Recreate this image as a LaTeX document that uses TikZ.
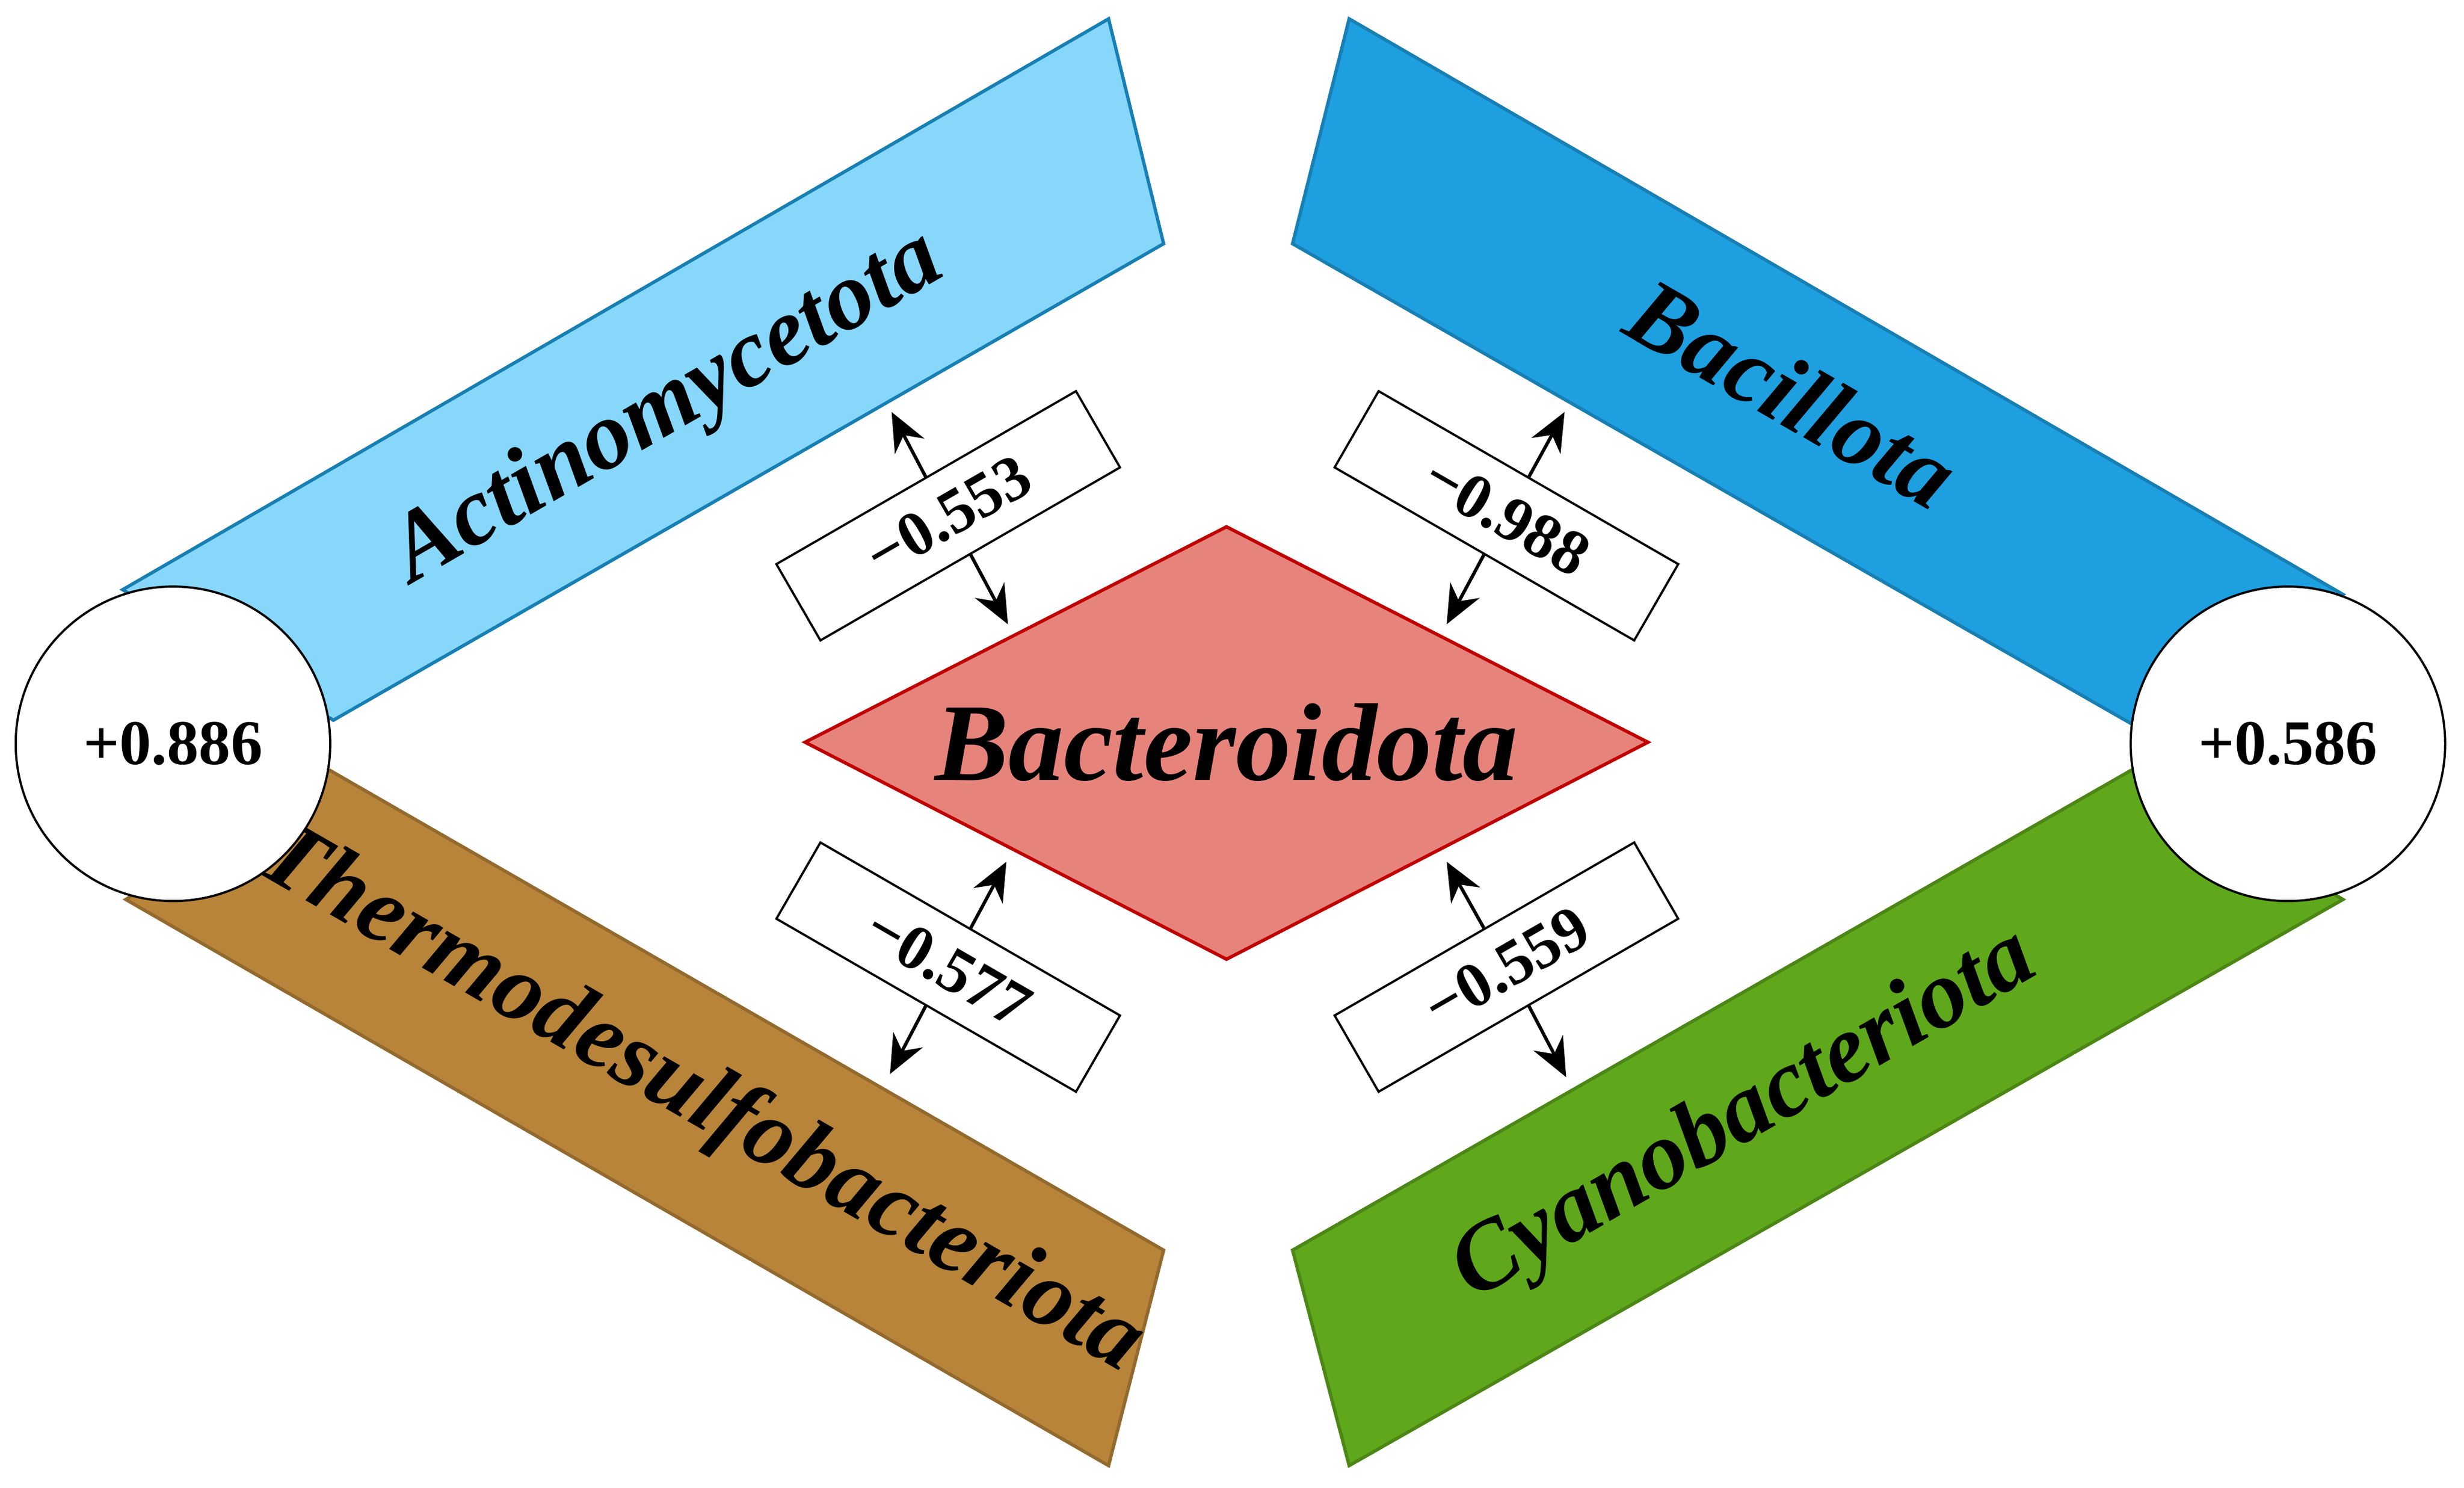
\documentclass[tikz,border=0pt]{standalone}
\usepackage{fontspec}
\setmainfont{Liberation Serif}
\usetikzlibrary{arrows.meta}
\definecolor{actc}{HTML}{87D7FB}
\definecolor{bacc}{HTML}{1E9FE0}
\definecolor{thc}{HTML}{B8843A}
\definecolor{cyc}{HTML}{5FA81C}
\definecolor{dic}{HTML}{E6847C}
\tikzset{
 band/.style={line width=0.6pt},
 blab/.style={font=\fontsize{17.5}{19}\selectfont\bfseries\itshape},
 numbox/.style={draw,fill=white,minimum width=2.2cm,minimum height=0.56cm,inner sep=0pt,font=\fontsize{11.5}{13}\selectfont\bfseries},
 circ/.style={draw,fill=white,circle,minimum size=2cm,inner sep=0pt,font=\fontsize{11.5}{13}\selectfont\bfseries},
 arr/.style={-{Stealth[length=7pt,width=6pt]},line width=0.6pt}
}
\begin{document}
\begin{tikzpicture}[x=0.1mm,y=0.1mm]
\useasboundingbox (0,0) rectangle (1567,946);
\draw[band,fill=actc,draw=bacc!80!black] (78,571)--(705,934)--(740,791)--(212,488)--cycle;
\draw[band,fill=bacc,draw=bacc!80!black] (858,934)--(1490,568)--(1355,486)--(822,791)--cycle;
\draw[band,fill=thc,draw=thc!80!black] (80,374)--(210,456)--(740,151)--(705,14)--cycle;
\draw[band,fill=cyc,draw=cyc!80!black] (822,151)--(1355,456)--(1490,374)--(858,14)--cycle;
\node[blab,rotate=30] (lact) at (425,686) {Actinomycetota};
\node[blab,rotate=-30] (lbac) at (1140,696) {Bacillota};
\node[blab,rotate=-30] (lthe) at (445,246) {Thermodesulfobacteriota};
\node[blab,rotate=30] (lcya) at (1110,236) {Cyanobacteriota};
\node[circ] (cl) at (110,473) {+0.886};
\node[circ] (cr) at (1455,473) {+0.586};
\draw[fill=dic,draw=red!75!black,line width=0.6pt] (512,474)--(780,611)--(1048,474)--(780,336)--cycle;
\node[font=\fontsize{20}{22}\selectfont\bfseries\itshape] (bact) at (780,474) {Bacteroidota};
\coordinate (a1n) at (567,684); \coordinate (a1s) at (641,549);
\coordinate (a2n) at (995,684); \coordinate (a2s) at (920,549);
\coordinate (a3n) at (640,398); \coordinate (a3s) at (566,263);
\coordinate (a4n) at (920,398); \coordinate (a4s) at (996,261);
\node[numbox,rotate=30] (b1) at (603,618) {−0.553};
\node[numbox,rotate=-30] (b2) at (958,618) {−0.988};
\node[numbox,rotate=-30] (b3) at (603,331) {−0.577};
\node[numbox,rotate=30] (b4) at (958,331) {−0.559};
\draw[arr] (b1.north)--(a1n); \draw[arr] (b1.south)--(a1s);
\draw[arr] (b2.north)--(a2n); \draw[arr] (b2.south)--(a2s);
\draw[arr] (b3.north)--(a3n); \draw[arr] (b3.south)--(a3s);
\draw[arr] (b4.north)--(a4n); \draw[arr] (b4.south)--(a4s);
\end{tikzpicture}
\end{document}
